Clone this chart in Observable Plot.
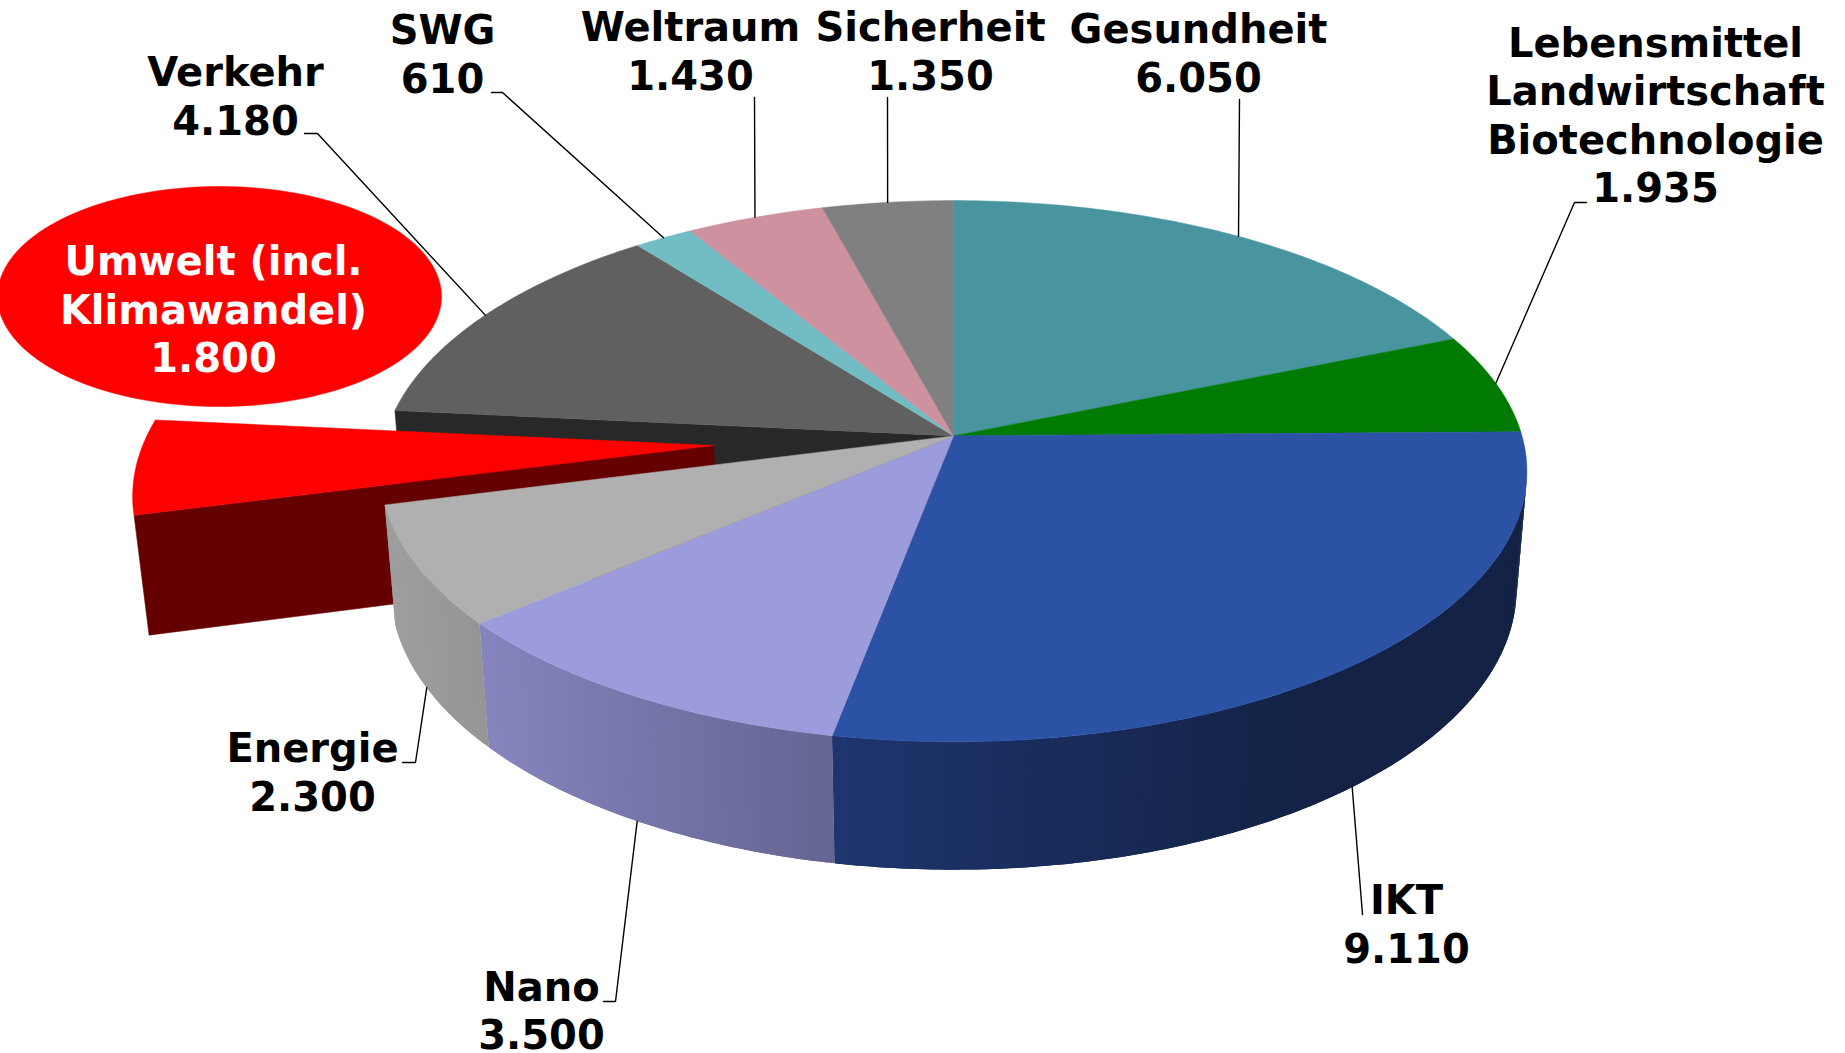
<!DOCTYPE html>
<html lang="de">
<head>
<meta charset="utf-8">
<title>Verteilung</title>
<script src="https://cdn.jsdelivr.net/npm/d3@7"></script>
<script src="https://cdn.jsdelivr.net/npm/@observablehq/plot@0.6"></script>
<style>
html,body{margin:0;padding:0;background:#fff}
svg{display:block}
</style>
</head>
<body>
<div id="chart"></div>
<script>
// ---------- data ----------
const categories = ["Gesundheit", "Lebensmittel\nLandwirtschaft\nBiotechnologie", "IKT", "Nano", "Energie",
  "Umwelt (incl.\nKlimawandel)", "Verkehr", "SWG", "Weltraum", "Sicherheit"];
const values = [6050, 1935, 9110, 3500, 2300, 1800, 4180, 610, 1430, 1350];
const topColors = ["#48949f", "#007a00", "#2c52a6", "#9c9cdc", "#b0b0b0", "#ff0000", "#606060", "#72bcc4", "#cd919f", "#808080"];

// ---------- layout (separate from the data) ----------
const width = 1845, height = 1053;
const centerX = 953.1, centerY = 435.4, radiusX = 568.4, radiusY = 266, perspective = 0.1304;
const depthY = 119, depthPerspective = 0.018;
const explodedIndex = 5, explodeU = -0.42, explodeV = -0.036;
const wallShades = new Map([
  [2, ["#1e356e", "#132245", 470]],
  [3, ["#8584bd", "#656593", 345]],
  [4, ["#9e9e9e", "#959595", 95]]
]);
const darkRed = "#640000", darkGrey = "#282828";
const labelPos = [[1198, 51.5], [1655, 113.5], [1406, 922.5], [541, 1009], [312, 770.5], [213, 307.5], [235, 94.5], [442, 52.5], [690, 49.5], [930, 49.5]];
// elbows of the leader lines: list of points from the rim outwards; rim end comes from the slice's angle
const leaderEnds = [
  [[1239, 99]], [[1574, 202], [1586, 202]], [[1362, 914]], [[615, 1001], [603, 1001]], [[415, 762], [402, 762]],
  null, [[317, 133], [304, 133]], [[502, 92], [491, 92]], [[754, 97]], [[887, 97]]
];
const calloutX = 219, calloutY = 296, calloutRX = 222, calloutRY = 110;

// ---------- geometry: a cylinder in perspective ----------
const total = d3.sum(values);
const cumulative = d3.cumsum(values);
const angle = (c) => (c / total) * 2 * Math.PI;
function project(u, v, h = 0) {
  const d = 1 + perspective * v + depthPerspective * h;
  return [centerX + (radiusX * u) / d, centerY + (-radiusY * v + depthY * h) / d];
}
const rim = (t, h = 0, du = 0, dv = 0) => project(Math.sin(t) + du, Math.cos(t) + dv, h);
const slices = values.map((val, i) => ({
  i, start: angle(cumulative[i] - val), end: angle(cumulative[i]),
  mid: angle(cumulative[i] - val / 2)
}));
function arc(s, h, du, dv) {
  const n = Math.max(2, Math.ceil((s.end - s.start) / 0.015));
  return d3.range(n + 1).map((j) => rim(s.start + ((s.end - s.start) * j) / n, h, du, dv));
}
const poly = (id, fill, pts) => pts.concat([pts[0]]).map(([x, y]) => ({ id, fill, x, y }));

// back pieces: inner wall left open by the exploded slice, then the exploded slice
const exploded = slices[explodedIndex];
const innerWall = poly("inner", darkGrey, [project(0, 0), rim(exploded.end), rim(exploded.end, 1), project(0, 0, 1)]);
const redWall = poly("redWall", darkRed, [
  project(explodeU, explodeV), rim(exploded.start, 0, explodeU, explodeV),
  rim(exploded.start, 1, explodeU, explodeV), project(explodeU, explodeV, 1)
]);
const redTop = poly("redTop", topColors[explodedIndex], [project(explodeU, explodeV), ...arc(exploded, 0, explodeU, explodeV)]);

// outer walls: overlapping strips, shaded left to right, painted from the far end of each slice
const walls = [];
for (const [i, [left, right, span]] of wallShades) {
  const s = slices[i];
  const mix = d3.interpolateRgb(left, right);
  const ts = d3.range(s.start, s.end, 0.012).concat([s.end]).filter((t) => Math.cos(t) < -perspective);
  const xLeft = d3.min(ts, (t) => rim(t)[0]);
  for (let j = 0; j < ts.length - 1; j++) {
    const next = ts[Math.min(j + 2, ts.length - 1)];
    const pts = d3.range(0, 1.01, 0.5).map((f) => ts[j] + (next - ts[j]) * f);
    const shade = mix(Math.min(1, (Math.min(rim(ts[j])[0], rim(ts[j + 1])[0]) - xLeft) / span));
    walls.push(...poly(`w${i}-${j}`, shade, [...pts.map((t) => rim(t)), ...pts.slice().reverse().map((t) => rim(t, 1))]));
  }
}

// top faces
const tops = slices.filter((s) => s.i !== explodedIndex)
  .flatMap((s) => poly(`t${s.i}`, topColors[s.i], [project(0, 0), ...arc(s, 0)]));

// callout ellipse
const callout = d3.range(0, 181).map((j) => {
  const t = (j / 180) * 2 * Math.PI;
  return { x: calloutX + calloutRX * Math.cos(t), y: calloutY + calloutRY * Math.sin(t) };
});

// leaders: outer-wall slices end on the lower rim
const leaders = slices.flatMap((s) => {
  const ends = leaderEnds[s.i];
  if (!ends) return [];
  const [x, y] = rim(s.mid, wallShades.has(s.i) ? 1 : 0);
  return [[x, y], ...ends].map(([px, py]) => ({ id: s.i, x: px, y: py }));
});

// labels
const fmt = d3.formatLocale({ decimal: ",", thousands: ".", grouping: [3], currency: ["", ""] }).format(",");
const labels = slices.map((s) => ({
  text: `${categories[s.i]}\n${fmt(values[s.i])}`,
  x: labelPos[s.i][0], y: labelPos[s.i][1],
  color: s.i === explodedIndex ? "#ffffff" : "#000000"
}));

const polygon = (rows, strokeWidth) => Plot.line(rows, {
  x: "x", y: "y", z: "id", fill: "fill", stroke: "fill", strokeWidth
});

const chart = Plot.plot({
  width, height,
  margin: 0,
  x: { domain: [0, width], range: [0, width], axis: null },
  y: { domain: [0, height], range: [0, height], axis: null },
  color: { type: "identity" },
  style: { background: "#fff" },
  marks: [
    polygon(innerWall, 0.5),
    polygon(redWall, 0.5),
    polygon(redTop, 0.5),
    Plot.line(walls, { x: "x", y: "y", z: "id", fill: "fill", stroke: "none" }),
    polygon(tops, 0.5),
    Plot.line(callout, { x: "x", y: "y", fill: "#ff0000", stroke: "#ff0000", strokeWidth: 0.5 }),
    Plot.line(leaders, { x: "x", y: "y", z: "id", stroke: "#000", strokeWidth: 1.4, strokeLinejoin: "miter" }),
    Plot.text(labels, {
      x: "x", y: "y", text: "text", fill: "color",
      fontFamily: "'DejaVu Sans'", fontWeight: "bold", fontSize: 40,
      textAnchor: "middle", lineAnchor: "middle", lineHeight: 1.215
    })
  ]
});
document.getElementById("chart").append(chart);
</script>
</body>
</html>
